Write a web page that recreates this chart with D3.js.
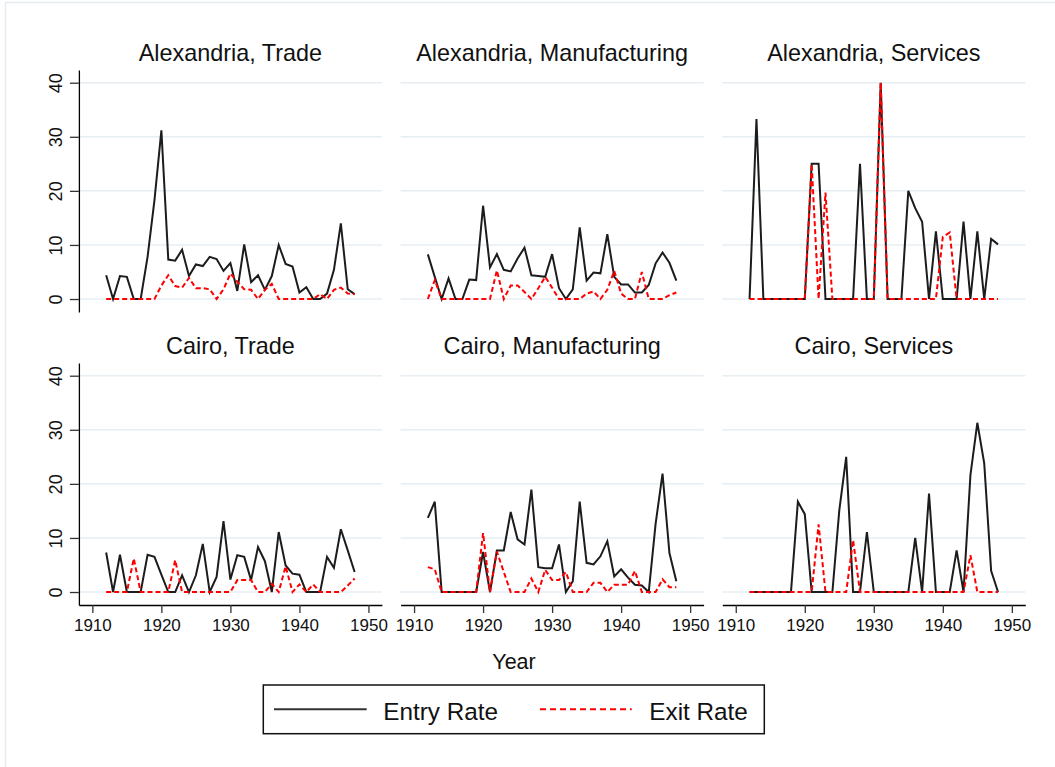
<!DOCTYPE html>
<html>
<head>
<meta charset="utf-8">
<script src="https://cdn.jsdelivr.net/npm/d3@7"></script>
<style>
  body { margin: 0; background: #fff; }
  svg text { font-family: "Liberation Sans", Arial, Helvetica, sans-serif; fill: #111; }
</style>
</head>
<body>
<div id="viewportContainer"></div>
<script>
/* --- data --- */
const years = [1912, 1913, 1914, 1915, 1916, 1917, 1918, 1919, 1920,
  1921, 1922, 1923, 1924, 1925, 1926, 1927, 1928, 1929, 1930,
  1931, 1932, 1933, 1934, 1935, 1936, 1937, 1938, 1939, 1940,
  1941, 1942, 1943, 1944, 1945, 1946, 1947, 1948];

const alexTradeEntry = [4.4, 0, 4.25, 4.1, 0, 0, 7.8, 18.3, 31.2,
  7.3, 7.1, 9.1, 4.25, 6.4, 6.1, 7.8, 7.4, 5.2, 6.65,
  1.5, 10.1, 3.1, 4.4, 1.7, 4.25, 10, 6.5, 6, 1.2,
  2.2, 0, 0, 1.0, 5.4, 14, 1.8, 0.9];
const alexTradeExit = [0, 0, 0, 0, 0, 0, 0, 0, 2.5,
  4.4, 2.4, 2.1, 3.9, 2.0, 2.0, 1.8, 0, 1.8, 4.7,
  3.2, 1.8, 1.7, 0, 1.7, 2.8, 0, 0, 0, 0,
  0, 0, 0.9, 0, 1.7, 2.1, 1.0, 0.9];

const alexMfgEntry = [8.25, 4.1, 0, 3.8, 0, 0, 3.6, 3.5, 17.25,
  5.85, 8.3, 5.4, 5.1, 7.5, 9.5, 4.4, 4.25, 4.1, 8.3,
  2.0, 0, 1.8, 13.25, 3.4, 4.9, 4.75, 12, 4.1, 2.7,
  2.7, 1.2, 1.2, 2.6, 6.6, 8.6, 6.7, 3.4];
const alexMfgExit = [0, 3.5, 0, 0, 0, 0, 0, 0, 0,
  0, 5.3, 0, 2.5, 2.5, 1.3, 0, 2.0, 4.1, 2.1,
  0, 0, 0, 0, 1.0, 1.4, 0, 1.7, 5.2, 1.0,
  0, 0, 5.0, 0, 0, 0, 0.7, 1.2];

const alexSvcEntry = [0, 33.3, 0, 0, 0, 0, 0, 0, 0,
  25, 25, 0, 0, 0, 0, 0, 25, 0, 0,
  40, 0, 0, 0, 20, 16.8, 14.3, 0, 12.5, 0,
  0, 0, 14.3, 0, 12.5, 0, 11.1, 10.1];
const alexSvcExit = [0, 0, 0, 0, 0, 0, 0, 0, 0,
  25, 0, 19.7, 0, 0, 0, 0, 0, 0, 0,
  40, 0, 0, 0, 0, 0, 0, 0, 0, 11.5,
  12.3, 0, 0, 0, 0, 0, 0, 0];

const cairoTradeEntry = [7.3, 0, 6.9, 0, 0, 0, 6.9, 6.5, 3.2,
  0, 0, 3.1, 0, 3.1, 8.9, 0, 2.8, 13.1, 2.3,
  6.8, 6.5, 2.2, 8.3, 5.7, 0, 11.1, 4.9, 3.4, 3.2,
  0, 0, 0, 6.5, 4.5, 11.6, 7.7, 3.7];
const cairoTradeExit = [0, 0, 0, 0, 6.2, 0, 0, 0, 0,
  0, 5.9, 0, 0, 0, 0, 0, 0, 0, 0,
  2.2, 2.2, 2.2, 0, 0, 1.5, 0, 4.75, 0, 1.4,
  0, 1.4, 0, 0, 0, 0, 1.2, 2.5];

const cairoMfgEntry = [13.7, 16.7, 0, 0, 0, 0, 0, 0, 7.4,
  0, 7.7, 7.7, 14.8, 9.75, 8.8, 18.95, 4.6, 4.4, 4.4,
  8.8, 0, 2.0, 16.7, 5.4, 5.1, 6.6, 9.4, 2.9, 4.2,
  2.65, 1.35, 1.2, 0, 12.65, 21.9, 7.2, 2.0];
const cairoMfgExit = [4.6, 4.2, 0, 0, 0, 0, 0, 0, 10.9,
  0, 7.5, 3.7, 0, 0, 0, 2.5, 0, 4.1, 2.2,
  2.2, 3.7, 0, 0, 0, 1.7, 1.7, 0, 1.35, 1.35,
  1.35, 3.9, 0, 0, 0, 2.35, 0.9, 0.9];

const cairoSvcEntry = [0, 0, 0, 0, 0, 0, 0, 16.7, 14.4,
  0, 0, 0, 0, 15.1, 25, 0, 0, 11.1, 0,
  0, 0, 0, 0, 0, 10, 0, 18.2, 0, 0,
  0, 7.7, 0, 21.6, 31.3, 23.8, 3.9, 0];
const cairoSvcExit = [0, 0, 0, 0, 0, 0, 0, 0, 0,
  0, 12.5, 0, 0, 0, 0, 9.6, 0, 0, 0,
  0, 0, 0, 0, 0, 0, 0, 0, 0, 0,
  0, 0, 0, 6.8, 0, 0, 0, 0];

const panelTitles = [
  "Alexandria, Trade", "Alexandria, Manufacturing", "Alexandria, Services",
  "Cairo, Trade", "Cairo, Manufacturing", "Cairo, Services"
];
const entrySeries = [alexTradeEntry, alexMfgEntry, alexSvcEntry, cairoTradeEntry, cairoMfgEntry, cairoSvcEntry];
const exitSeries = [alexTradeExit, alexMfgExit, alexSvcExit, cairoTradeExit, cairoMfgExit, cairoSvcExit];

const yTicks = [0, 10, 20, 30, 40];
const xTicks = [1910, 1920, 1930, 1940, 1950];
const legendLabels = ["Entry Rate", "Exit Rate"];

/* --- layout --- */
const viewport = { width: 1055, height: 767 };
const panelSize = { width: 303, height: 242 };
const colLeft = [78.9, 400.6, 722.3];
const rowTop = [70, 363];

const x = d3.scaleLinear().domain([1908.05, 1951.95]).range([0, panelSize.width]);
const y = d3.scaleLinear().domain([-2.4, 42.35]).range([panelSize.height, 0]);

const svg = d3
  .select("#viewportContainer")
  .append("svg")
  .attr("width", viewport.width)
  .attr("height", viewport.height);

// outer frame
svg
  .append("rect")
  .attr("x", 5.5)
  .attr("y", 2.5)
  .attr("width", 1100)
  .attr("height", 800)
  .attr("fill", "#fff")
  .attr("stroke", "#e4ecf0")
  .attr("stroke-width", 1.5);

let drawPanel = function (i) {
  const row = Math.floor(i / 3),
    col = i % 3;
  const g = svg
    .append("g")
    .attr("transform", `translate(${colLeft[col]},${rowTop[row]})`);

  /*--- grid ---*/
  g.selectAll(".grid")
    .data(yTicks)
    .enter()
    .append("line")
    .attr("class", "grid")
    .attr("x1", 0)
    .attr("x2", panelSize.width)
    .attr("y1", (d) => y(d))
    .attr("y2", (d) => y(d))
    .attr("stroke", "#e6eef2")
    .attr("stroke-width", 1.5);

  /*--- title ---*/
  g.append("text")
    .attr("x", panelSize.width / 2)
    .attr("y", -9.5)
    .attr("text-anchor", "middle")
    .attr("font-size", "23.4px")
    .text(panelTitles[i]);

  /*--- y axis (left column only) ---*/
  if (col === 0) {
    const yAxis = g
      .append("g")
      .call(d3.axisLeft(y).tickValues(yTicks).tickSize(9).tickSizeOuter(0));
    yAxis.select(".domain").attr("stroke", "#000").attr("stroke-width", 1.3);
    yAxis.selectAll(".tick line").attr("stroke", "#333").attr("stroke-width", 1.3);
    yAxis
      .selectAll(".tick text")
      .attr("transform", "rotate(-90)")
      .attr("x", 0)
      .attr("y", -17.3)
      .attr("dy", 0)
      .attr("text-anchor", "middle")
      .attr("font-size", "18px")
      .attr("font-family", null)
      .attr("fill", "#111");
  }

  /*--- x axis (bottom row only) ---*/
  if (row === 1) {
    const xAxis = g
      .append("g")
      .attr("transform", `translate(0,${panelSize.height})`)
      .call(
        d3.axisBottom(x).tickValues(xTicks).tickSize(8).tickSizeOuter(0).tickFormat(d3.format("d"))
      );
    xAxis.select(".domain").attr("stroke", "#000").attr("stroke-width", 1.3);
    xAxis.selectAll(".tick line").attr("stroke", "#333").attr("stroke-width", 1.3);
    xAxis
      .selectAll(".tick text")
      .attr("y", 26)
      .attr("dy", 0)
      .attr("font-size", "17px")
      .attr("font-family", null)
      .attr("fill", "#111");
  }

  /*--- lines ---*/
  const line = d3
    .line()
    .x((d, j) => x(years[j]))
    .y((d) => y(d));

  g.append("path")
    .datum(entrySeries[i])
    .attr("fill", "none")
    .attr("stroke", "#1c1c1c")
    .attr("stroke-width", 2)
    .attr("stroke-linejoin", "miter")
    .attr("d", line);

  g.append("path")
    .datum(exitSeries[i])
    .attr("fill", "none")
    .attr("stroke", "#ff0000")
    .attr("stroke-width", 2)
    .attr("stroke-dasharray", "5,3")
    .attr("d", line);
};

for (let i = 0; i < 6; i++) drawPanel(i);

/*--- x title ---*/
svg
  .append("text")
  .attr("x", 514)
  .attr("y", 669)
  .attr("text-anchor", "middle")
  .attr("font-size", "21.5px")
  .text("Year");

/*--- legend ---*/
const legend = svg.append("g").attr("transform", "translate(263.3,685)");
legend
  .append("rect")
  .attr("width", 501)
  .attr("height", 48.7)
  .attr("fill", "none")
  .attr("stroke", "#111")
  .attr("stroke-width", 1.5);

const legendItems = [
  { label: legendLabels[0], x1: 10.7, x2: 103.4, tx: 120, color: "#333", dash: null },
  { label: legendLabels[1], x1: 276.7, x2: 368.4, tx: 386, color: "#ff0000", dash: "6,4" }
];
legendItems.forEach((d) => {
  legend
    .append("line")
    .attr("x1", d.x1)
    .attr("x2", d.x2)
    .attr("y1", 24.3)
    .attr("y2", 24.3)
    .attr("stroke", d.color)
    .attr("stroke-width", 2)
    .attr("stroke-dasharray", d.dash);
  legend
    .append("text")
    .attr("x", d.tx)
    .attr("y", 34.5)
    .attr("font-size", "24.3px")
    .text(d.label);
});
</script>
</body>
</html>
